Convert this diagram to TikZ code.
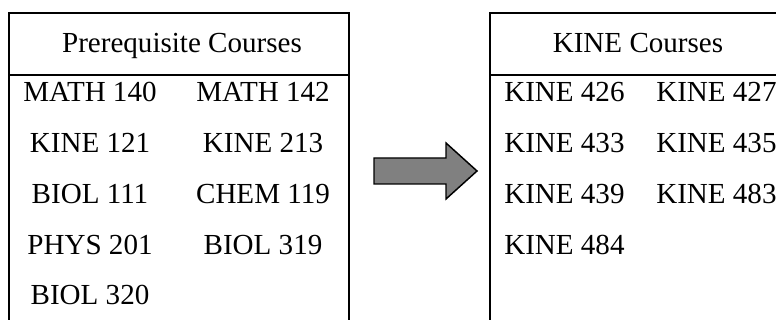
\documentclass[tikz,border=0pt]{standalone}
\usepackage{fontspec}
\setmainfont{Liberation Serif}
\usepackage{xcolor}
\definecolor{arrowgray}{RGB}{128,128,128}

\begin{document}
\begin{tikzpicture}[x=0.75pt, y=-0.75pt,
  frame/.style={draw=black, line width=1.5pt},
  course/.style={font=\fontsize{21.8}{26}\selectfont, inner sep=0pt},
  arrowshape/.style={draw=black, line width=1.1pt, fill=arrowgray, line join=miter}]
  \useasboundingbox (0,0) rectangle (776,320);
  \clip (0,0) rectangle (776,320);
  % the two tables, both running past the lower edge
  \draw[frame] (9,13) rectangle (349,330);
  \draw[frame] (9,75) -- (349,75);
  \draw[frame] (490,13) rectangle (790,330);
  \draw[frame] (490,75) -- (790,75);
  \node[course, anchor=base] (prehead) at (182,53) {Prerequisite Courses};
  \node[course, anchor=base] (kinehead) at (638,53) {KINE Courses};
  % prerequisite courses, two columns
  \foreach \name/\col/\row/\txt in {math140/0/0/MATH 140, math142/1/0/MATH 142,
      kine121/0/1/KINE 121, kine213/1/1/KINE 213, biol111/0/2/BIOL 111, chem119/1/2/CHEM 119,
      phys201/0/3/PHYS 201, biol319/1/3/BIOL 319, biol320/0/4/BIOL 320} {
    \pgfmathsetmacro{\x}{90+\col*173}
    \pgfmathsetmacro{\y}{102+\row*50.75}
    \node[course, anchor=base] (\name) at (\x,\y) {\txt};
  }
  % kine courses
  \foreach \name/\col/\row/\txt in {kine426/0/0/KINE 426, kine427/1/0/KINE 427,
      kine433/0/1/KINE 433, kine435/1/1/KINE 435, kine439/0/2/KINE 439, kine483/1/2/KINE 483,
      kine484/0/3/KINE 484} {
    \pgfmathsetmacro{\x}{504+\col*152}
    \pgfmathsetmacro{\y}{102+\row*50.75}
    \node[course, anchor=base west] (\name) at (\x,\y) {\txt};
  }
  % block arrow
  \draw[arrowshape] (374,158) -- (446,158) -- (446,143) -- (477,171)
    -- (446,199) -- (446,184) -- (374,184) -- cycle;
\end{tikzpicture}
\end{document}
